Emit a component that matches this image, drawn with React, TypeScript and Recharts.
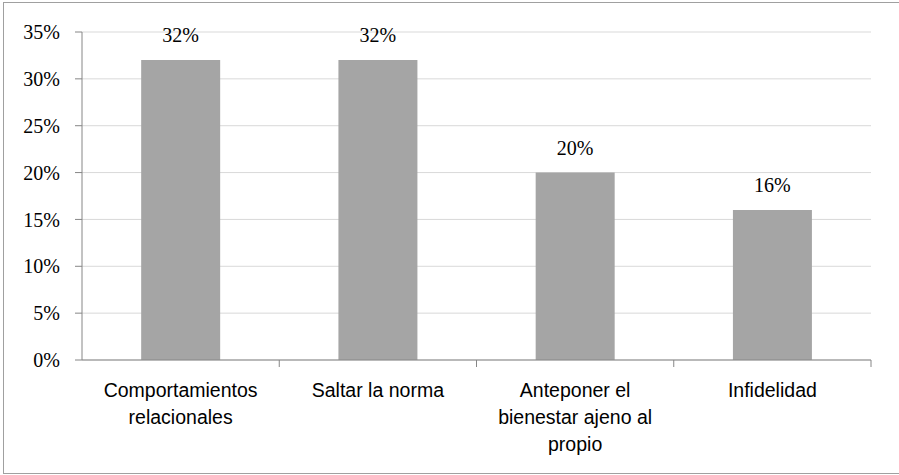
import React from "react";
import { BarChart, Bar, XAxis, YAxis, CartesianGrid, LabelList } from "recharts";

// categories, line breaks mark where the label wraps
const categories = [
  "Comportamientos\nrelacionales",
  "Saltar la norma",
  "Anteponer el\nbienestar ajeno al\npropio",
  "Infidelidad",
];
const percentages = [32, 32, 20, 16];
const yTicks = [0, 5, 10, 15, 20, 25, 30, 35];

const data = categories.map((name, i) => ({ name, value: percentages[i] }));

const W = 899;
const H = 475;
const margin = { top: 32, right: 28, bottom: 0, left: 0 };
const yAxisWidth = 82;
const xAxisHeight = 115;
const halfBand = (W - margin.right - yAxisWidth) / categories.length / 2;

const serif = "'Liberation Serif', serif";
const sans = "'Liberation Sans', Arial, sans-serif";

// eslint-disable-next-line @typescript-eslint/no-explicit-any
function CategoryTick(props: any) {
  const { x, y, payload } = props;
  const lines = String(payload.value).split("\n");
  return (
    <g>
      <line x1={x + halfBand} x2={x + halfBand} y1={y} y2={y + 7} stroke="#868686" strokeWidth={1} />
      <text x={x} y={y + 37} textAnchor="middle" fontFamily={sans} fontSize={19.5} fill="#000">
        {lines.map((l, i) => (
          <tspan key={i} x={x} dy={i === 0 ? 0 : 27}>
            {l}
          </tspan>
        ))}
      </text>
    </g>
  );
}

export default function App() {
  return (
    <div
      style={{
        position: "absolute",
        left: 0,
        top: 0,
        width: W,
        height: H,
        overflow: "hidden",
        background: "#fff",
      }}
    >
      <div
        style={{
          position: "absolute",
          left: 3,
          top: 2,
          width: 920,
          height: 470,
          border: "1px solid #a0a0a0",
        }}
      />
      <div style={{ position: "absolute", left: 0, top: 0 }}>
        <BarChart width={W} height={H} data={data} margin={margin} barCategoryGap="30%">
          <CartesianGrid vertical={false} stroke="#d9d9d9" />
          <XAxis
            dataKey="name"
            height={xAxisHeight}
            axisLine={{ stroke: "#868686" }}
            tickLine={false}
            tickSize={0}
            tickMargin={0}
            interval={0}
            tick={<CategoryTick />}
          />
          <YAxis
            width={yAxisWidth}
            domain={[0, 35]}
            ticks={yTicks}
            interval={0}
            tickFormatter={(v) => `${v}%`}
            axisLine={{ stroke: "#868686" }}
            tickLine={{ stroke: "#868686" }}
            tickSize={7}
            tickMargin={15}
            tick={{ fill: "#000", fontFamily: serif, fontSize: 20 }}
          />
          <Bar dataKey="value" fill="#a5a5a5" isAnimationActive={false}>
            <LabelList
              dataKey="value"
              position="top"
              offset={18}
              formatter={(v: any) => `${v}%`}
              style={{ fill: "#000", fontFamily: serif, fontSize: 20 }}
            />
          </Bar>
        </BarChart>
      </div>
    </div>
  );
}
